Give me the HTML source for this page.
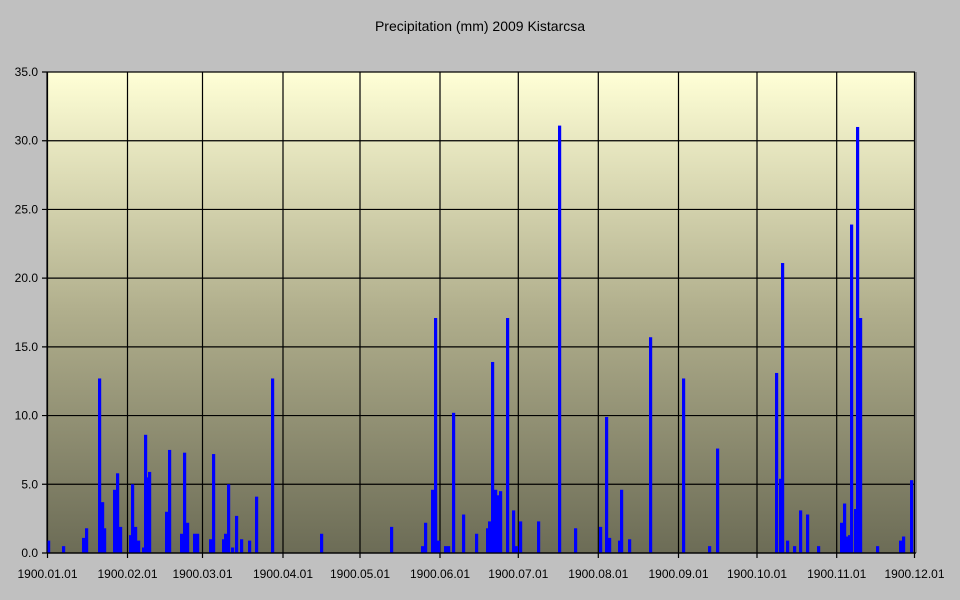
<!DOCTYPE html><html><head><style>body{margin:0;background:#c0c0c0}</style></head><body>
<svg width="960" height="595" xmlns="http://www.w3.org/2000/svg" font-family="Liberation Sans, sans-serif">
<defs><linearGradient id="g" x1="0" y1="0" x2="0" y2="1"><stop offset="0" stop-color="#ffffd6"/><stop offset="0.5" stop-color="#b0ae8c"/><stop offset="1" stop-color="#6c6c56"/></linearGradient></defs>
<rect width="960" height="595" fill="#c0c0c0"/>
<text x="480" y="31" font-size="14" text-anchor="middle">Precipitation (mm) 2009 Kistarcsa</text>
<rect x="47" y="72" width="868" height="481" fill="url(#g)"/>
<line x1="916" y1="72" x2="916" y2="553" stroke="#888" stroke-width="2"/>
<g stroke="#000" stroke-width="1.2" id="grid"></g>
<g fill="#0000ff" id="bars"></g>
<g font-size="12" id="labels"></g>
<script>
var NS="http://www.w3.org/2000/svg";
function el(p,t,a,tx){var e=document.createElementNS(NS,t);for(var k in a)e.setAttribute(k,a[k]);if(tx)e.textContent=tx;document.getElementById(p).appendChild(e);}
var y0=553,k=481/35;
for(var i=0;i<=7;i++){var y=y0-i*5*k;el('grid','line',{x1:42,x2:915,y1:y,y2:y});el('labels','text',{x:38,y:y+4,'text-anchor':'end'},(i*5).toFixed(1));}
var xs=[47.5,127.5,202.5,283,360,440,518.3,598.3,678.5,757,836.7,914.5];
xs.forEach(function(x,i){el('grid','line',{x1:x,x2:x,y1:72,y2:558});el('labels','text',{x:x,y:578,'text-anchor':'middle'},'1900.'+(i<9?'0':'')+(i+1)+'.01');});
var B=[[47,0.9],[62,0.5],[82,1.1],[85,1.8],[98,12.7],[101,3.7],[103,1.8],[113,4.6],[116,5.8],[119,1.9],[129,1.3],[131,5.0],[134,1.9],[137,0.9],[142,0.4],[144,8.6],[147,5.5],[148,5.9],[165,3.0],[168,7.5],[180,1.4],[183,7.3],[186,2.2],[193,1.4],[196,1.4],[209,1.0],[212,7.2],[222,1.0],[224,1.4],[227,5.0],[231,0.4],[235,2.7],[240,1.0],[248,0.9],[255,4.1],[271,12.7],[320,1.4],[390,1.9],[421,0.5],[424,2.2],[431,4.6],[434,17.1],[437,0.9],[444,0.5],[447,0.5],[452,10.2],[462,2.8],[475,1.4],[486,1.8],[488,2.3],[491,13.9],[494,4.6],[497,4.2],[499,4.5],[506,17.1],[512,3.1],[515,0.5],[519,2.3],[537,2.3],[558,31.1],[574,1.8],[599,1.9],[605,9.9],[608,1.1],[618,0.9],[620,4.6],[628,1.0],[649,15.7],[682,12.7],[708,0.5],[716,7.6],[775,13.1],[779,5.4],[781,21.1],[786,0.9],[793,0.5],[799,3.1],[806,2.8],[817,0.5],[840,2.2],[843,3.6],[846,1.2],[848,1.3],[850,23.9],[854,3.2],[856,31.0],[859,17.1],[876,0.5],[899,0.9],[902,1.2],[910,5.3]];
B.forEach(function(b){var h=b[1]*k;el('bars','rect',{x:b[0],y:y0-h,width:3.2,height:h});});
</script>
<line x1="47" y1="72" x2="47" y2="553" stroke="#000" stroke-width="1.2"/>
<line x1="47" y1="553" x2="916" y2="553" stroke="#000" stroke-width="1.2"/>
</svg></body></html>
